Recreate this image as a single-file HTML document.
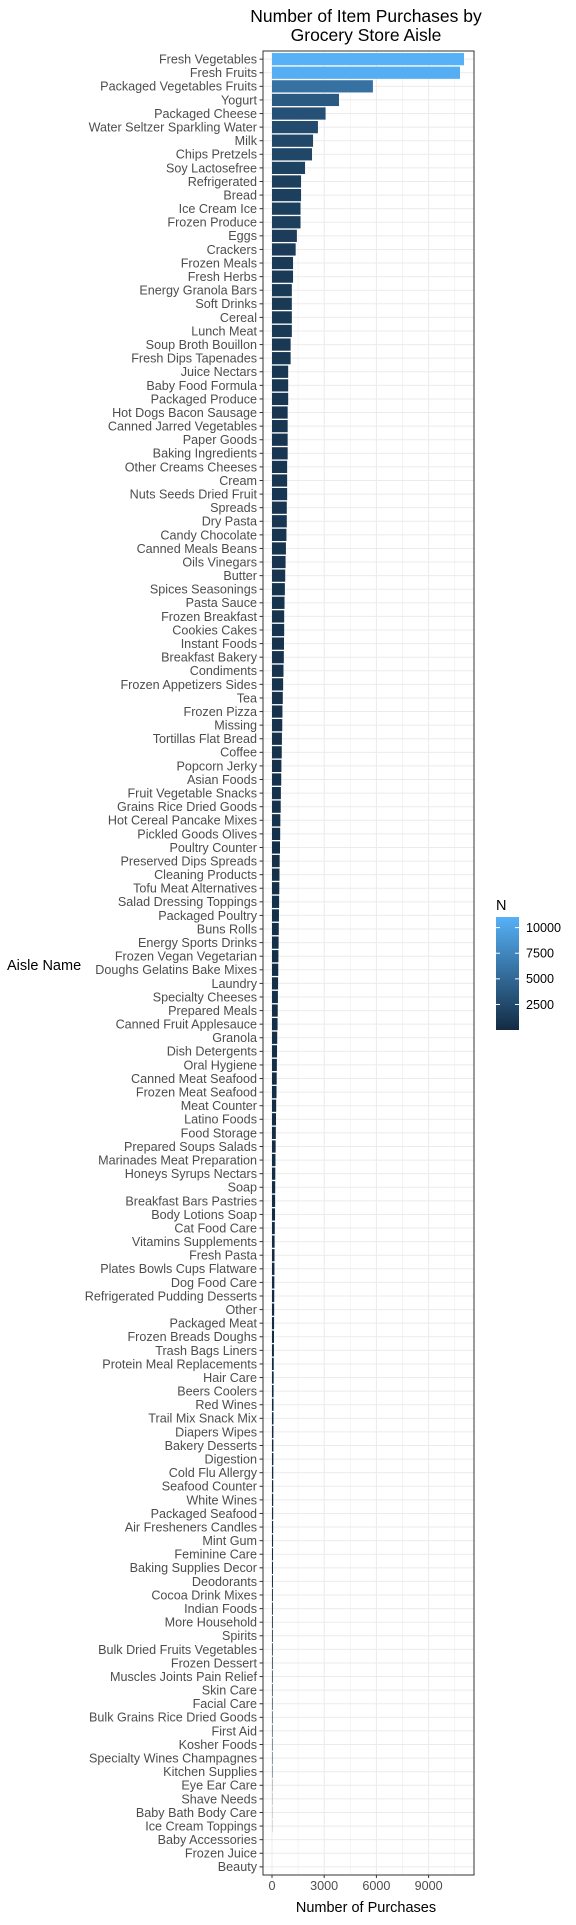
<!DOCTYPE html>
<html><head><meta charset="utf-8"><style>
body{margin:0;background:#fff;}
svg text{font-family:"Liberation Sans",Arial,sans-serif;}
</style></head><body>
<svg id="chart" width="576" height="1920" xmlns="http://www.w3.org/2000/svg">
<rect width="576" height="1920" fill="#fff"/>
<text x="366" y="22" font-size="17.5" text-anchor="middle" fill="#000">Number of Item Purchases by</text>
<text x="366" y="41" font-size="17.5" text-anchor="middle" fill="#000">Grocery Store Aisle</text>
<g id="grid"></g><g id="bars"></g><g id="ylabels"></g><g id="xaxis"></g>
<rect x="263" y="51" width="211" height="1824" fill="none" stroke="#333" stroke-width="1"/>
<text x="366" y="1912" font-size="14.5" text-anchor="middle" fill="#000">Number of Purchases</text>
<text x="7" y="970" font-size="14.5" fill="#000">Aisle Name</text>
<g id="legend"></g>
</svg>
<script>
const categories=["Fresh Vegetables","Fresh Fruits","Packaged Vegetables Fruits","Yogurt","Packaged Cheese","Water Seltzer Sparkling Water","Milk","Chips Pretzels","Soy Lactosefree","Refrigerated","Bread","Ice Cream Ice","Frozen Produce","Eggs","Crackers","Frozen Meals","Fresh Herbs","Energy Granola Bars","Soft Drinks","Cereal","Lunch Meat","Soup Broth Bouillon","Fresh Dips Tapenades","Juice Nectars","Baby Food Formula","Packaged Produce","Hot Dogs Bacon Sausage","Canned Jarred Vegetables","Paper Goods","Baking Ingredients","Other Creams Cheeses","Cream","Nuts Seeds Dried Fruit","Spreads","Dry Pasta","Candy Chocolate","Canned Meals Beans","Oils Vinegars","Butter","Spices Seasonings","Pasta Sauce","Frozen Breakfast","Cookies Cakes","Instant Foods","Breakfast Bakery","Condiments","Frozen Appetizers Sides","Tea","Frozen Pizza","Missing","Tortillas Flat Bread","Coffee","Popcorn Jerky","Asian Foods","Fruit Vegetable Snacks","Grains Rice Dried Goods","Hot Cereal Pancake Mixes","Pickled Goods Olives","Poultry Counter","Preserved Dips Spreads","Cleaning Products","Tofu Meat Alternatives","Salad Dressing Toppings","Packaged Poultry","Buns Rolls","Energy Sports Drinks","Frozen Vegan Vegetarian","Doughs Gelatins Bake Mixes","Laundry","Specialty Cheeses","Prepared Meals","Canned Fruit Applesauce","Granola","Dish Detergents","Oral Hygiene","Canned Meat Seafood","Frozen Meat Seafood","Meat Counter","Latino Foods","Food Storage","Prepared Soups Salads","Marinades Meat Preparation","Honeys Syrups Nectars","Soap","Breakfast Bars Pastries","Body Lotions Soap","Cat Food Care","Vitamins Supplements","Fresh Pasta","Plates Bowls Cups Flatware","Dog Food Care","Refrigerated Pudding Desserts","Other","Packaged Meat","Frozen Breads Doughs","Trash Bags Liners","Protein Meal Replacements","Hair Care","Beers Coolers","Red Wines","Trail Mix Snack Mix","Diapers Wipes","Bakery Desserts","Digestion","Cold Flu Allergy","Seafood Counter","White Wines","Packaged Seafood","Air Fresheners Candles","Mint Gum","Feminine Care","Baking Supplies Decor","Deodorants","Cocoa Drink Mixes","Indian Foods","More Household","Spirits","Bulk Dried Fruits Vegetables","Frozen Dessert","Muscles Joints Pain Relief","Skin Care","Facial Care","Bulk Grains Rice Dried Goods","First Aid","Kosher Foods","Specialty Wines Champagnes","Kitchen Supplies","Eye Ear Care","Shave Needs","Baby Bath Body Care","Ice Cream Toppings","Baby Accessories","Frozen Juice","Beauty"];
const values=[11035,10805,5800,3850,3080,2640,2360,2300,1900,1670,1670,1640,1640,1430,1360,1210,1210,1140,1140,1140,1140,1070,1070,930,930,930,900,900,900,900,870,870,870,850,850,830,800,780,760,740,720,700,700,690,680,660,640,620,600,590,570,560,540,530,510,500,480,470,460,440,430,420,410,400,390,380,370,360,350,340,330,320,300,290,280,270,260,240,230,220,210,200,190,185,180,175,160,150,145,140,135,130,125,120,115,110,100,95,90,88,85,82,80,78,75,72,70,68,65,62,60,58,55,52,50,48,46,44,42,40,38,36,34,32,30,28,26,15,12,10,8];
const xTicks=[0,3000,6000,9000];
const xMinor=[1500,4500,7500,10500];
const legendTicks=[2500,5000,7500,10000];

const NS="http://www.w3.org/2000/svg";
const PL=263,PR=474,PT=51,PB=1875;
const x0=272,pxPer=52.2/3000;
const X=v=>x0+v*pxPer;
const band=(PB-PT)/(categories.length+0.2);
const Y=i=>PT+(0.6+i)*band;
const vmin=Math.min(...values),vmax=Math.max(...values);
const lo=[19,43,67],hi=[86,177,247];
function col(v){const t=(v-vmin)/(vmax-vmin);return "rgb("+lo.map((c,k)=>Math.round(c+(hi[k]-c)*t)).join(",")+")";}
function mk(tag,attrs,parent){const e=document.createElementNS(NS,tag);for(const k in attrs)e.setAttribute(k,attrs[k]);parent.appendChild(e);return e;}
const grid=document.getElementById('grid');
xMinor.forEach(v=>{const l=mk('line',{x1:X(v),x2:X(v),y1:PT,y2:PB,stroke:'#f0f0f0','stroke-width':0.7},grid);

});
xTicks.forEach(v=>{const l=mk('line',{x1:X(v),x2:X(v),y1:PT,y2:PB,stroke:'#ebebeb','stroke-width':1},grid);

});
const bars=document.getElementById('bars'),yl=document.getElementById('ylabels');
categories.forEach((c,i)=>{
 const yc=Y(i);
 const g=mk('line',{x1:PL,x2:PR,y1:yc,y2:yc,stroke:'#ebebeb','stroke-width':1},grid);
 
 
 const r=mk('rect',{x:X(0),y:yc-band*0.45,width:Math.max(0,X(values[i])-X(0)),height:band*0.9,fill:col(values[i])},bars);
 
 
 const t=mk('text',{x:257,y:yc+4.4,'font-size':12.6,'text-anchor':'end',fill:'#4d4d4d'},yl);
 t.textContent=c;
 
 
 const tk=mk('line',{x1:259.5,x2:PL,y1:yc,y2:yc,stroke:'#333','stroke-width':1},yl);
 
 
});
const xa=document.getElementById('xaxis');
xTicks.forEach(v=>{
 const tk=mk('line',{x1:X(v),x2:X(v),y1:PB,y2:PB+3,stroke:'#333'},xa);
 
 
 const t=mk('text',{x:X(v),y:PB+15,'font-size':12.6,'text-anchor':'middle',fill:'#4d4d4d'},xa);
 t.textContent=v;
 
 
});
const lg=document.getElementById('legend');
const LT=917,LB=1030,LX=496,LW=23;
const defs=mk('defs',{},lg);
const gr=mk('linearGradient',{id:'lgrad',x1:0,y1:1,x2:0,y2:0},defs);
mk('stop',{offset:'0','stop-color':col(vmin)},gr);
mk('stop',{offset:'1','stop-color':col(vmax)},gr);
const lb=mk('rect',{x:LX,y:LT,width:LW,height:LB-LT,fill:'url(#lgrad)'},lg);


const lt=mk('text',{x:496,y:910,'font-size':14.5,fill:'#000'},lg);
lt.textContent='N';


const LY=v=>LB-(v-vmin)/(vmax-vmin)*(LB-LT);
legendTicks.forEach(v=>{
 const y=LY(v);
 mk('line',{x1:LX,x2:LX+4,y1:y,y2:y,stroke:'#fff'},lg);
 mk('line',{x1:LX+LW-4,x2:LX+LW,y1:y,y2:y,stroke:'#fff'},lg);
 const t=mk('text',{x:526,y:y+4.4,'font-size':12.6,fill:'#000'},lg);
 t.textContent=v;
 
 
});
</script>
</body></html>
